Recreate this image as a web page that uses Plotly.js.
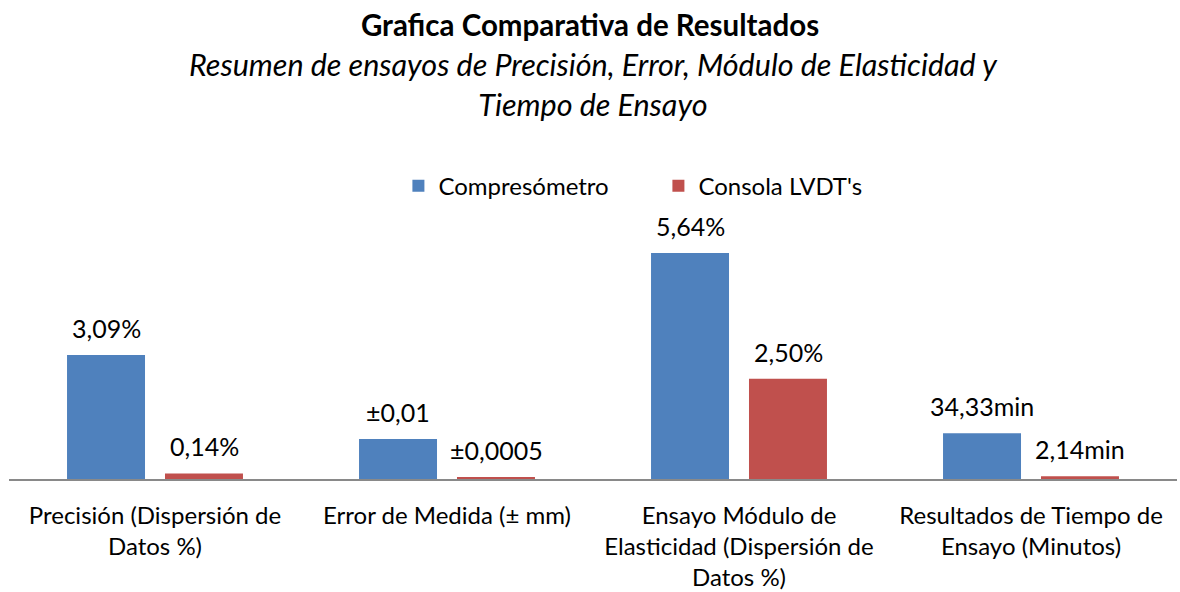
<!DOCTYPE html>
<html><head><meta charset="utf-8">
<script src="https://cdn.plot.ly/plotly-3.0.1.min.js"></script>
<style>html,body{margin:0;padding:0;background:#fff}#chart{width:1180px;height:592px}</style>
</head><body><div id="chart"></div>
<script>
const categories = [
  "Precisión (Dispersión de<br>Datos %)",
  "Error de Medida (± mm)",
  "Ensayo Módulo de<br>Elasticidad (Dispersión de<br>Datos %)",
  "Resultados de Tiempo de<br>Ensayo (Minutos)"
];
const seriesNames = ["Compresómetro", "Consola LVDT's"];
const compresometro = [3.09, 1.0, 5.64, 1.144];
const consola = [0.14, 0.05, 2.50, 0.071];
const compresometroLabels = ["3,09%", "±0,01", "5,64%", "34,33min"];
const consolaLabels = ["0,14%", "±0,0005", "2,50%", "2,14min"];
const colors = ["#4F81BD", "#C0504D"];

const FONT = "Lato, 'Open Sans', sans-serif";

const traces = [
  {type: "bar", name: seriesNames[0], x: categories, y: compresometro, marker: {color: colors[0]}, hoverinfo: "none"},
  {type: "bar", name: seriesNames[1], x: categories, y: consola, marker: {color: colors[1]}, hoverinfo: "none"}
];

const annotations = [];
categories.forEach((c, i) => {
  annotations.push({x: c, y: compresometro[i], xref: "x", yref: "y", text: compresometroLabels[i],
    showarrow: false, yanchor: "bottom", xshift: -49, yshift: 10, font: {size: 25, color: "#000", family: FONT}});
  annotations.push({x: c, y: consola[i], xref: "x", yref: "y", text: consolaLabels[i],
    showarrow: false, yanchor: "bottom", xshift: 49, yshift: 10, font: {size: 25, color: "#000", family: FONT}});
});
annotations.push({
  xref: "paper", yref: "paper", x: 0.5, y: 1.678, xanchor: "center", yanchor: "top",
  text: "<i>Resumen de ensayos de Precisión, Error, Módulo de Elasticidad y</i><br><i>Tiempo de Ensayo</i>",
  showarrow: false, font: {size: 30.5, color: "#000", family: FONT}
});

const layout = {
  width: 1180, height: 592,
  margin: {l: 9, r: 3, t: 220, b: 113},
  paper_bgcolor: "#fff", plot_bgcolor: "#fff",
  font: {family: FONT, color: "#000", size: 24},
  title: {text: "<b>Grafica Comparativa de Resultados</b>", x: 0.5, xanchor: "center", y: 0.957, yanchor: "middle",
    font: {size: 29.5, family: FONT, color: "#000"}},
  barmode: "group", bargap: 0.329, bargroupgap: 0.204,
  showlegend: true,
  legend: {orientation: "h", x: 0.556, xanchor: "center", y: 1.131, yanchor: "middle",
    font: {size: 24, family: FONT, color: "#000"}, itemwidth: 30, entrywidth: 215},
  xaxis: {showline: true, linecolor: "#898989", linewidth: 2, ticks: "", showgrid: false, zeroline: false,
    tickfont: {size: 24, family: FONT, color: "#000"}, ticklabelstandoff: 14, automargin: false},
  yaxis: {range: [0, 6.46], visible: false, showgrid: false, zeroline: false, fixedrange: true},
  annotations: annotations
};

Plotly.newPlot("chart", traces, layout, {displayModeBar: false, staticPlot: true});
</script></body></html>
